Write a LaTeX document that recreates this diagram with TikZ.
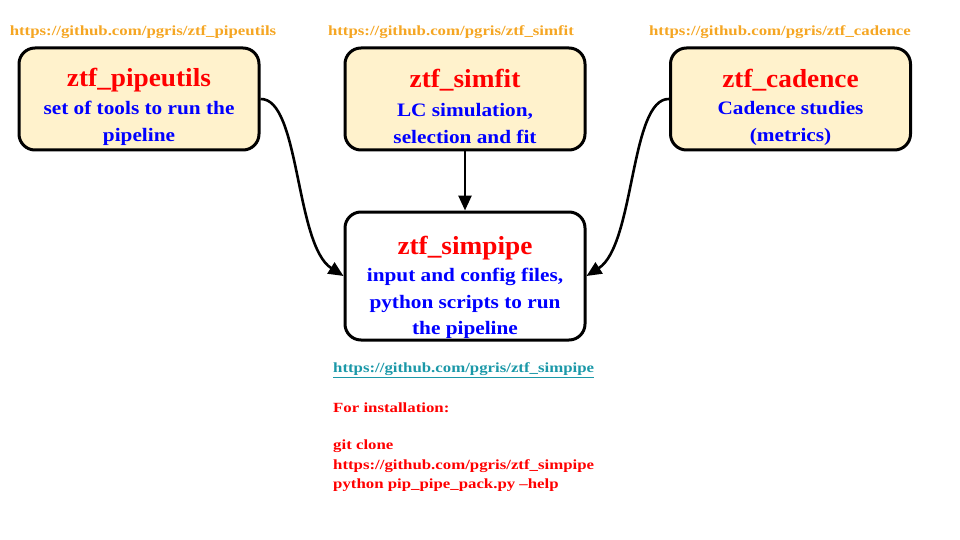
\documentclass[tikz,border=0pt]{standalone}
\usepackage{fontspec}
\setmainfont{Liberation Serif}
\newfontfamily\titlefont[FakeStretch=1.05]{Liberation Serif}
\newfontfamily\bodyfont[FakeStretch=1.12]{Liberation Serif}
\newfontfamily\urlfont[FakeStretch=1.2]{Liberation Serif}
\usetikzlibrary{arrows.meta}
\definecolor{boxfill}{HTML}{FFF2CC}
\definecolor{urlorange}{HTML}{F5A623}
\definecolor{tealurl}{HTML}{1B98A8}
\begin{document}
\begin{tikzpicture}[x=1pt,y=-1pt,
  box/.style={draw=black, line width=3pt, rounded corners=16pt, minimum width=240pt, inner sep=0pt},
  srcbox/.style={box, fill=boxfill, minimum height=102pt},
  title/.style={text=red, font=\titlefont\fontsize{26}{30}\selectfont\bfseries, inner sep=0pt},
  body/.style={text=blue, font=\bodyfont\fontsize{19}{26.5}\selectfont\bfseries, align=center, inner sep=0pt},
  url/.style={text=urlorange, font=\urlfont\fontsize{14}{16}\selectfont\bfseries, inner sep=0pt},
  note/.style={text=red, font=\urlfont\fontsize{14}{19.5}\selectfont\bfseries, inner sep=0pt, anchor=west},
  conn/.style={line width=2.6pt, -{Triangle[length=15pt,width=13pt]}}
]
\useasboundingbox (0,0) rectangle (960,540);

% boxes
\node[srcbox] (pipeutils) at (139,99) {};
\node[srcbox] (simfit) at (465,99) {};
\node[srcbox] (cadence) at (790.5,99) {};
\node[box, fill=white, minimum height=128pt] (simpipe) at (465,276) {};

% urls
\node[url] (u1) at (143,32) {https://github.com/pgris/ztf\_pipeutils};
\node[url] (u2) at (451,32) {https://github.com/pgris/ztf\_simfit};
\node[url] (u3) at (780,32) {https://github.com/pgris/ztf\_cadence};

% box texts
\node[title] (t1) at (139,80) {ztf\_pipeutils};
\node[body] (b1) at (139,123.5) {set of tools to run the\\pipeline};
\node[title] (t2) at (465,80) {ztf\_simfit};
\node[body] (b2) at (465,123.5) {LC simulation,\\selection and fit};
\node[title] (t3) at (790.5,80) {ztf\_cadence};
\node[body] (b3) at (790.5,123.5) {Cadence studies\\(metrics)};
\node[title] (t4) at (465,248) {ztf\_simpipe};
\node[body] (b4) at (465,303.5) {input and config files,\\python scripts to run\\the pipeline};

% notes
\node[note, text=tealurl] (n1) at (333,370.5) {\underline{https://github.com/pgris/ztf\_simpipe}};
\node[note] (n2) at (333,408) {For installation:};
\node[note, align=left] (n3) at (333,466) {git clone\\https://github.com/pgris/ztf\_simpipe\\python pip\_pipe\_pack.py –help};

% connectors
\draw[conn] (simfit.south) -- (simpipe.north);
\draw[conn] (pipeutils.east) .. controls (300,98) and (295,245) .. (simpipe.west);
\draw[conn] (cadence.west) .. controls (630,98) and (635,245) .. (simpipe.east);
\end{tikzpicture}
\end{document}
